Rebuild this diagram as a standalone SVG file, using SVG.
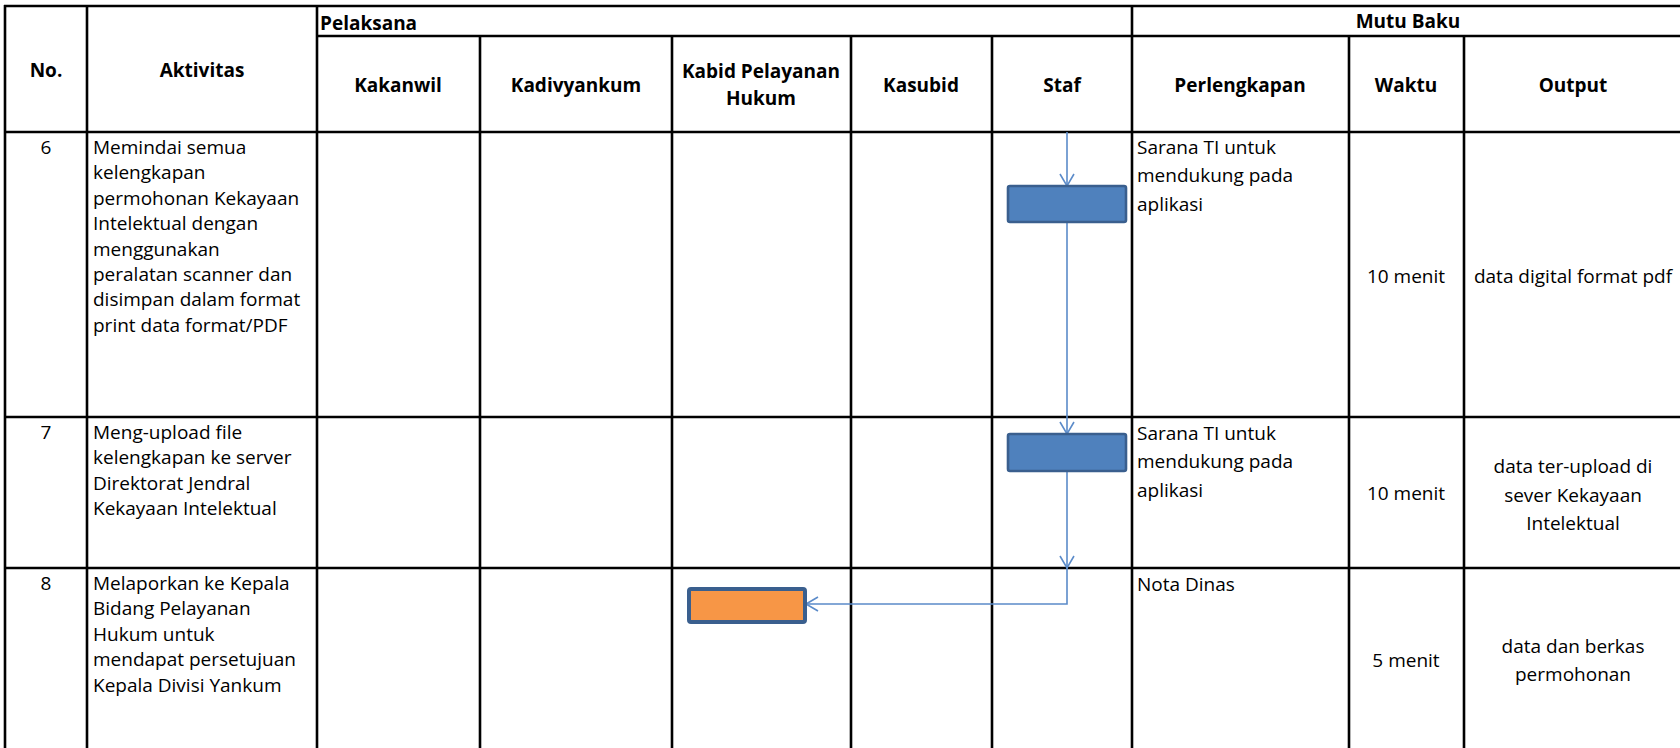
<svg xmlns="http://www.w3.org/2000/svg" width="1680" height="748" viewBox="0 0 1680 748">
<style>
text{font-family:"Open Sans","Noto Sans","Liberation Sans",sans-serif;font-size:19px;fill:#000}
.b{font-weight:bold}
.c{text-anchor:middle}
.grid line{stroke:#000;stroke-width:2.6}
.conn{fill:none;stroke:#5B8BC9;stroke-width:1.6}
.blue{fill:#4F81BD;stroke:#3A5F8E;stroke-width:2.6}
.orange{fill:#F79646;stroke:#3A5F8E;stroke-width:4}
</style>
<defs>
<marker id="ah" markerUnits="userSpaceOnUse" markerWidth="16" markerHeight="18" refX="13" refY="8" orient="auto">
<path d="M1,1 L13,8 L1,15" fill="none" stroke="#5B8BC9" stroke-width="1.6"/>
</marker>
</defs>
<rect width="1680" height="748" fill="#fff"/>
<g id="grid" class="grid">
<line x1="4" y1="6" x2="1680" y2="6"/>
<line x1="317" y1="36" x2="1680" y2="36"/>
<line x1="4" y1="132" x2="1680" y2="132"/>
<line x1="4" y1="417" x2="1680" y2="417"/>
<line x1="4" y1="568" x2="1680" y2="568"/>
<line x1="5" y1="5" x2="5" y2="748"/>
<line x1="87" y1="5" x2="87" y2="748"/>
<line x1="317" y1="5" x2="317" y2="748"/>
<line x1="480" y1="36" x2="480" y2="748"/>
<line x1="672" y1="36" x2="672" y2="748"/>
<line x1="851" y1="36" x2="851" y2="748"/>
<line x1="992" y1="36" x2="992" y2="748"/>
<line x1="1132" y1="5" x2="1132" y2="748"/>
<line x1="1349" y1="36" x2="1349" y2="748"/>
<line x1="1464" y1="36" x2="1464" y2="748"/>
</g>
<g id="header">
<text class="b c" x="46" y="77">No.</text>
<text class="b c" x="202" y="77">Aktivitas</text>
<text class="b" x="320" y="30">Pelaksana</text>
<text class="b c" x="1408" y="28">Mutu Baku</text>
<text class="b c" x="398" y="92">Kakanwil</text>
<text class="b c" x="576" y="92">Kadivyankum</text>
<text class="b c" x="761" y="78">Kabid Pelayanan</text>
<text class="b c" x="761" y="105">Hukum</text>
<text class="b c" x="921" y="92">Kasubid</text>
<text class="b c" x="1062" y="92">Staf</text>
<text class="b c" x="1240" y="92">Perlengkapan</text>
<text class="b c" x="1406" y="92">Waktu</text>
<text class="b c" x="1573" y="92">Output</text>
</g>
<g id="row6">
<text class="c" x="46" y="154">6</text>
<text x="93" y="154">Memindai semua</text>
<text x="93" y="179.4">kelengkapan</text>
<text x="93" y="204.8">permohonan Kekayaan</text>
<text x="93" y="230.2">Intelektual dengan</text>
<text x="93" y="255.6">menggunakan</text>
<text x="93" y="281">peralatan scanner dan</text>
<text x="93" y="306.4">disimpan dalam format</text>
<text x="93" y="331.8">print data format/PDF</text>
<text x="1137" y="154">Sarana TI untuk</text>
<text x="1137" y="182.3">mendukung pada</text>
<text x="1137" y="210.6">aplikasi</text>
<text class="c" x="1406" y="283">10 menit</text>
<text class="c" x="1573" y="283">data digital format pdf</text>
</g>
<g id="row7">
<text class="c" x="46" y="439">7</text>
<text x="93" y="439">Meng-upload file</text>
<text x="93" y="464.4">kelengkapan ke server</text>
<text x="93" y="489.8">Direktorat Jendral</text>
<text x="93" y="515.2">Kekayaan Intelektual</text>
<text x="1137" y="440">Sarana TI untuk</text>
<text x="1137" y="468.3">mendukung pada</text>
<text x="1137" y="496.6">aplikasi</text>
<text class="c" x="1406" y="500">10 menit</text>
<text class="c" x="1573" y="473">data ter-upload di</text>
<text class="c" x="1573" y="501.5">sever Kekayaan</text>
<text class="c" x="1573" y="530">Intelektual</text>
</g>
<g id="row8">
<text class="c" x="46" y="590">8</text>
<text x="93" y="590">Melaporkan ke Kepala</text>
<text x="93" y="615.4">Bidang Pelayanan</text>
<text x="93" y="640.8">Hukum untuk</text>
<text x="93" y="666.2">mendapat persetujuan</text>
<text x="93" y="691.6">Kepala Divisi Yankum</text>
<text x="1137" y="591">Nota Dinas</text>
<text class="c" x="1406" y="667">5 menit</text>
<text class="c" x="1573" y="653">data dan berkas</text>
<text class="c" x="1573" y="681">permohonan</text>
</g>
<g id="connectors">
<path class="conn" d="M1067,132 V186" marker-end="url(#ah)"/>
<path class="conn" d="M1067,222 V434" marker-end="url(#ah)"/>
<path class="conn" d="M1067,471 V568" marker-end="url(#ah)"/>
<path class="conn" d="M1067,568 V604 H806" marker-end="url(#ah)"/>
</g>
<g id="node-staf-6"><rect class="blue" x="1008" y="186" width="118" height="36" rx="2"/></g>
<g id="node-staf-7"><rect class="blue" x="1008" y="434" width="118" height="37" rx="2"/></g>
<g id="node-kabid-8"><rect class="orange" x="689" y="589" width="116" height="33" rx="2"/></g>
</svg>
